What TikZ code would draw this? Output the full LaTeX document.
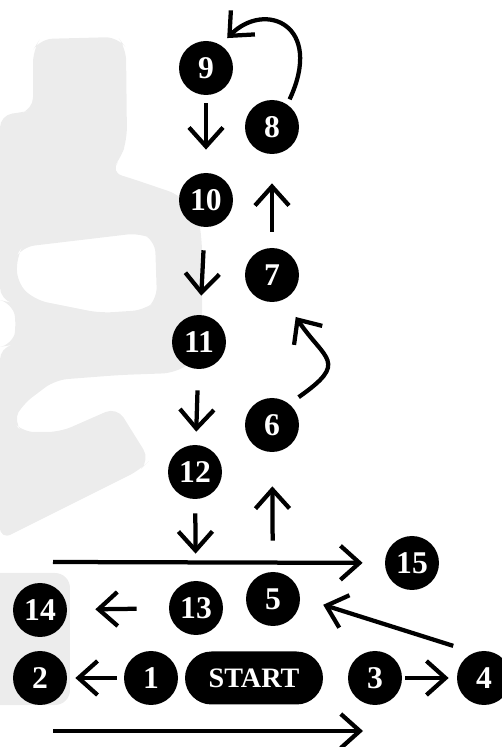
\documentclass[tikz,border=0pt]{standalone}
\usepackage{fontspec}
\setmainfont{Liberation Serif}
\usetikzlibrary{shapes.misc, arrows.meta}
\definecolor{blobgray}{RGB}{236,236,236}

\begin{document}
\begin{tikzpicture}[
        dot/.style={circle, fill=black, text=white, minimum size=1.08cm, inner sep=0pt, font=\fontsize{18}{18}\selectfont\bfseries},
        pill/.style={rounded rectangle, fill=black, text=white, minimum width=2.76cm, minimum height=1.06cm, inner sep=0pt, font=\fontsize{16}{16}\selectfont\bfseries},
        flow/.style={line width=0.085cm, -{Straight Barb[length=0.38cm, width=0.68cm]}}
    ]
        \useasboundingbox (0, 0) rectangle (10.04, 14.94);

        \fill[blobgray, rounded corners=0.25cm, even odd rule]
            (0.66, 12.74) -- (0.66, 13.94) -- (0.80, 14.16) -- (2.36, 14.20) -- (2.52, 13.98)
            -- (2.54, 12.14) -- (2.40, 11.74) -- (2.20, 11.50) -- (2.60, 11.38) -- (3.60, 11.04)
            -- (3.96, 10.64) -- (4.04, 10.14) -- (4.04, 8.34) -- (3.90, 7.74) -- (3.50, 7.48)
            -- (2.40, 7.44) -- (1.10, 7.34) -- (0.44, 6.84) -- (0.26, 6.50) -- (0.44, 6.30)
            -- (1.20, 6.30) -- (2.34, 6.80) -- (3.00, 5.74) -- (2.80, 5.54) -- (0, 4.14)
            -- (0, 8.00) -- (0.24, 8.04) -- (0.34, 8.44) -- (0.24, 8.88) -- (0, 8.94)
            -- (0, 12.64) -- (0.50, 12.70) -- cycle
            (0.34, 9.84) -- (0.44, 10.00) -- (2.80, 10.28) -- (3.10, 10.14) -- (3.14, 8.94)
            -- (2.90, 8.74) -- (2.00, 8.68) -- (0.70, 8.94) -- (0.34, 9.28) -- cycle;
        \fill[blobgray] (0, 0.84) [rounded corners=0.3cm] -- (1.40, 0.84) -- (1.40, 3.48) [sharp corners] -- (0, 3.48) -- cycle;

        \node[dot] (s9) at (4.12, 13.58) {9};
        \node[dot] (s8) at (5.44, 12.40) {8};
        \node[dot] (s10) at (4.12, 10.94) {10};
        \node[dot] (s7) at (5.44, 9.44) {7};
        \node[dot] (s11) at (3.98, 8.10) {11};
        \node[dot] (s6) at (5.44, 6.44) {6};
        \node[dot] (s12) at (3.90, 5.50) {12};
        \node[dot] (s15) at (8.24, 3.68) {15};
        \node[dot] (s14) at (0.80, 2.74) {14};
        \node[dot] (s13) at (3.92, 2.78) {13};
        \node[dot] (s5) at (5.46, 2.96) {5};
        \node[dot] (s2) at (0.80, 1.38) {2};
        \node[dot] (s1) at (3.02, 1.38) {1};
        \node[pill] (start) at (5.08, 1.38) {START};
        \node[dot] (s3) at (7.50, 1.38) {3};
        \node[dot] (s4) at (9.68, 1.38) {4};

        \coordinate (topL) at (1.06, 3.70);
        \coordinate (botL) at (1.06, 0.32);
        \coordinate (botR) at (7.26, 0.32);

        \draw[flow, shorten <=0.16cm, shorten >=0.46cm] (s9) -- (s10);
        \draw[flow, shorten <=0.46cm, shorten >=0.38cm] (s10) -- (s11);
        \draw[flow, shorten <=0.42cm, shorten >=0.26cm] (s11) -- (s12);
        \draw[flow, shorten <=0.28cm, shorten >=0.54cm] (s12) -- (s13);
        \draw[flow, shorten <=0.62cm, shorten >=0.68cm] (s5) -- (s6);
        \draw[flow, shorten <=0.32cm, shorten >=0.58cm] (s7) -- (s8);
        \draw[flow, shorten <=0.64cm, shorten >=0.56cm] (s13) -- (s14);
        \draw[flow, shorten <=0.14cm, shorten >=0.16cm] (s1) -- (s2);
        \draw[flow, shorten <=0.06cm, shorten >=0.16cm] (s3) -- (s4);
        \draw[flow, shorten <=0.44cm, shorten >=0.48cm] (s4.111) -- (s5.3);
        \draw[flow, shorten >=0.44cm] (topL) -- (s15);
        \draw[flow] (botL) -- (botR);
        \draw[flow, shorten <=0.11cm, shorten >=0.19cm] (s8.56) to[out=65, in=45, out looseness=2.5, in looseness=1.8] (s9.58);
        \draw[flow, shorten <=0.23cm, shorten >=0.42cm] (s6.51) to[out=35, in=-56, looseness=1.8] (s7.-64);
    \end{tikzpicture}
\end{document}
